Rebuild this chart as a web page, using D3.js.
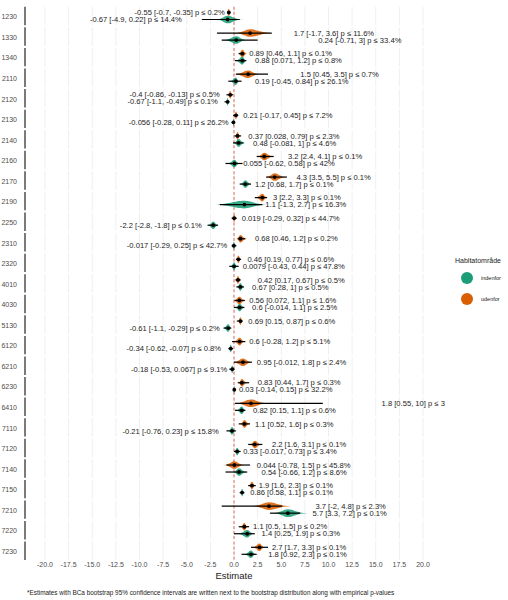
<!DOCTYPE html>
<html>
<head>
<meta charset="utf-8">
<script src="https://cdn.jsdelivr.net/npm/d3@7"></script>
<style>
body { margin: 0; background: #fff; }
text { font-family: "Liberation Sans", Arial, sans-serif; }
</style>
</head>
<body>
<svg id="chart" width="508" height="600"></svg>
<script>
var codes = ['1230', '1330', '1340', '2110', '2120', '2130', '2140', '2160', '2170', '2190', '2250',
    '2310', '2320', '4010', '4030', '5130', '6120', '6210', '6230', '6410', '7110', '7120', '7140',
    '7150', '7210', '7220', '7230']

var xTicks = [-20, -17.5, -15, -12.5, -10, -7.5, -5, -2.5, 0, 2.5, 5, 7.5, 10, 12.5, 15, 17.5, 20]

// estimate, BCa lower, BCa upper, empirical p (%)
var udenforStats = [
    [-0.55, -0.7, -0.35, 0.2], [1.7, -1.7, 3.6, 11.6], [0.89, 0.46, 1.1, 0.1], [1.5, 0.45, 3.5, 0.7],
    [-0.4, -0.86, -0.13, 0.5], [0.21, -0.17, 0.45, 7.2], [0.37, 0.028, 0.79, 2.3], [3.2, 2.4, 4.1, 0.1],
    [4.3, 3.5, 5.5, 0.1], [3, 2.2, 3.3, 0.1], [0.019, -0.29, 0.32, 44.7], [0.68, 0.46, 1.2, 0.2],
    [0.46, 0.19, 0.77, 0.6], [0.42, 0.17, 0.67, 0.5], [0.56, 0.072, 1.1, 1.6], [0.69, 0.15, 0.87, 0.6],
    [0.6, -0.28, 1.2, 5.1], [0.95, -0.012, 1.8, 2.4], [0.83, 0.44, 1.7, 0.3], [1.8, 0.55, 10, 3.1],
    [1.1, 0.52, 1.6, 0.3], [2.2, 1.6, 3.1, 0.1], [0.044, -0.78, 1.5, 45.8], [1.9, 1.6, 2.3, 0.1],
    [3.7, -2, 4.8, 2.3], [1.1, 0.5, 1.5, 0.2], [2.7, 1.7, 3.3, 0.1]
]
var indenforStats = [
    [-0.67, -4.9, 0.22, 14.4], [0.24, -0.71, 3, 33.4], [0.88, 0.071, 1.2, 0.8], [0.19, -0.45, 0.84, 26.1],
    [-0.67, -1.1, -0.49, 0.1], [-0.056, -0.28, 0.11, 26.2], [0.48, -0.081, 1, 4.6], [0.055, -0.62, 0.58, 42],
    [1.2, 0.68, 1.7, 0.1], [1.1, -1.3, 2.7, 16.3], [-2.2, -2.8, -1.8, 0.1], [-0.017, -0.29, 0.25, 42.7],
    [0.0079, -0.43, 0.44, 47.8], [0.67, 0.28, 1, 0.5], [0.6, -0.014, 1.1, 2.5], [-0.61, -1.1, -0.29, 0.2],
    [-0.34, -0.62, -0.07, 0.8], [-0.18, -0.53, 0.067, 9.1], [0.03, -0.14, 0.15, 32.2], [0.82, 0.15, 1.1, 0.6],
    [-0.21, -0.76, 0.23, 15.8], [0.33, -0.017, 0.73, 3.4], [0.54, -0.66, 1.2, 8.6], [0.86, 0.58, 1.1, 0.1],
    [5.7, 3.3, 7.2, 0.1], [1.4, 0.25, 1.9, 0.3], [1.8, 0.92, 2.3, 0.1]
]

// bootstrap distribution: interval lo, hi, density lo, hi, extreme value on the label side
var udenforBoot = [
    [-0.7, -0.4, -0.8, -0.3, -0.65], [-1.8, 4.0, -0.1, 4.4, 6.0], [0.5, 1.1, 0.4, 1.4, 1.3],
    [0.2, 3.6, -0.1, 2.8, 6.7], [-0.8, -0.1, -0.7, -0.1, -1.2], [-0.1, 0.45, -0.05, 0.45, 0.65],
    [0.05, 0.75, 0.1, 0.7, 1.2], [2.4, 4.2, 2.4, 4.3, 5.4], [3.4, 5.6, 3.3, 5.6, 6.3],
    [2.2, 3.5, 2.2, 3.6, 3.8], [-0.25, 0.3, -0.2, 0.25, 0.5], [0.4, 1.2, 0.2, 1.4, 1.9],
    [0.2, 0.75, 0.2, 0.8, 1.1], [0.15, 0.7, 0.15, 0.75, 2.2], [0.05, 1.15, -0.1, 1.3, 1.3],
    [0.3, 0.9, 0.35, 0.95, 1.2], [-0.2, 1.2, -0.1, 1.2, 1.3], [0.0, 1.9, -0.2, 2.0, 2.1],
    [0.4, 1.6, 0.4, 1.5, 2.2], [0.1, 9.4, -0.1, 3.8, 15.3], [0.5, 1.7, 0.6, 1.7, 1.9],
    [1.5, 3.0, 1.6, 3.0, 3.7], [-0.8, 1.7, -1.2, 1.2, 2.1], [1.5, 2.3, 1.5, 2.3, 2.3],
    [-1.3, 5.1, 1.7, 6.1, 8.3], [0.5, 1.6, 0.6, 1.5, 1.7], [1.8, 3.6, 1.9, 3.3, 3.7]
]
var indenforBoot = [
    [-3.4, 0.6, -2.0, 1.0, -5.2], [-1.3, 2.5, -1.2, 1.4, 8.6], [0.1, 1.3, 0.1, 1.4, 1.9],
    [-0.6, 0.8, -0.5, 0.6, 1.9], [-1.0, -0.5, -0.9, -0.5, -1.4], [-0.25, 0.1, -0.2, 0.1, -0.25],
    [-0.1, 1.0, -0.1, 1.2, 1.7], [-0.9, 0.9, -0.75, 0.65, 0.65], [0.6, 1.8, 0.6, 1.9, 1.9],
    [-1.5, 3.0, -2.6, 3.8, 3.0], [-2.8, -1.7, -2.8, -1.6, -3.1], [-0.25, 0.25, -0.2, 0.2, -0.4],
    [-0.5, 0.5, -0.4, 0.4, 0.6], [0.25, 1.05, 0.3, 1.1, 1.6], [0.0, 1.1, 0.05, 1.2, 1.6],
    [-1.1, -0.3, -1.2, -0.2, -1.2], [-0.6, -0.1, -0.6, -0.1, -1.05], [-0.5, 0.05, -0.45, 0.05, -0.4],
    [-0.1, 0.15, -0.1, 0.15, 0.2], [0.1, 1.2, 0.2, 1.3, 1.7], [-0.8, 0.2, -0.6, 0.2, -1.3],
    [0.0, 0.7, 0.0, 0.75, 0.65], [-0.9, 1.4, -0.2, 1.4, 2.6], [0.6, 1.1, 0.6, 1.1, 1.4],
    [3.8, 7.0, 4.0, 7.8, 8.0], [0.0, 2.2, 0.3, 2.2, 2.6], [0.8, 2.4, 1.0, 2.4, 3.3]
]

var groups = ['udenfor', 'indenfor']
var groupColors = { indenfor: '#1b9e77', udenfor: '#d95f02' }

var svg = d3.select('#chart')

var x = d3.scaleLinear().domain([-20, 20]).range([45, 423])
var panelLeft = 25, panelRight = 445
var yPanel = d3.scaleBand().domain(codes).range([6.8, 560]).paddingInner(0.105)
var yGroup = d3.scalePoint().domain(groups).range([-3.5, 3.5])

var rows = []
codes.forEach(function (c, i) {
    [['udenfor', udenforStats[i], udenforBoot[i]], ['indenfor', indenforStats[i], indenforBoot[i]]].forEach(function (g) {
        rows.push({
            code: c, group: g[0],
            est: g[1][0], lo: g[1][1], hi: g[1][2], p: g[1][3],
            qLo: g[2][0], qHi: g[2][1], dLo: g[2][2], dHi: g[2][3], tail: g[2][4]
        })
    })
})

svg.append('defs').append('clipPath').attr('id', 'panelClip')
    .append('rect')
    .attr('x', panelLeft).attr('y', 0)
    .attr('width', panelRight - panelLeft).attr('height', 600)

// panels: grid, zero line, axis segment, label
var panels = svg.append('g').selectAll('g')
    .data(codes)
    .enter()
    .append('g')
    .attr('transform', function (d) { return 'translate(0,' + yPanel(d) + ')' })

panels.selectAll('.grid')
    .data(xTicks)
    .enter()
    .append('line')
    .attr('class', 'grid')
    .attr('x1', function (d) { return x(d) })
    .attr('x2', function (d) { return x(d) })
    .attr('y1', 0)
    .attr('y2', yPanel.bandwidth())
    .style('stroke', '#e8e8e8')
    .style('stroke-width', 0.7)

panels.append('line')
    .attr('x1', x(0)).attr('x2', x(0))
    .attr('y1', 0).attr('y2', yPanel.bandwidth())
    .style('stroke', '#e05a4f')
    .style('stroke-width', 0.9)
    .style('stroke-dasharray', '3,2')

panels.append('line')
    .attr('x1', panelLeft).attr('x2', panelLeft)
    .attr('y1', 0).attr('y2', yPanel.bandwidth())
    .style('stroke', '#333')
    .style('stroke-width', 1.3)

panels.append('text')
    .attr('x', 17)
    .attr('y', yPanel.bandwidth() / 2 + 0.8)
    .attr('dy', '0.35em')
    .attr('text-anchor', 'end')
    .style('font-size', '7px')
    .style('fill', '#4d4d4d')
    .text(function (d) { return d })

function rowY(d) {
    return yPanel(d.code) + yPanel.bandwidth() / 2 + yGroup(d.group)
}

function eyePath(d) {
    var a = x(d.dLo), m = x(d.est), b = x(d.dHi), y = rowY(d), h = 3.8
    return 'M' + a + ',' + y +
        'C' + (a + (m - a) * 0.6) + ',' + y + ' ' + (m - (m - a) * 0.3) + ',' + (y - h) + ' ' + m + ',' + (y - h) +
        'C' + (m + (b - m) * 0.3) + ',' + (y - h) + ' ' + (b - (b - m) * 0.6) + ',' + y + ' ' + b + ',' + y +
        'C' + (b - (b - m) * 0.6) + ',' + y + ' ' + (m + (b - m) * 0.3) + ',' + (y + h) + ' ' + m + ',' + (y + h) +
        'C' + (m - (m - a) * 0.3) + ',' + (y + h) + ' ' + (a + (m - a) * 0.6) + ',' + y + ' ' + a + ',' + y + 'Z'
}

var marks = svg.append('g').attr('clip-path', 'url(#panelClip)')

marks.selectAll('.eye')
    .data(rows)
    .enter()
    .append('path')
    .attr('class', 'eye')
    .attr('d', eyePath)
    .style('fill', function (d) { return groupColors[d.group] })
    .style('fill-opacity', 0.88)

marks.selectAll('.interval')
    .data(rows)
    .enter()
    .append('line')
    .attr('class', 'interval')
    .attr('x1', function (d) { return x(d.qLo) })
    .attr('x2', function (d) { return x(d.qHi) })
    .attr('y1', rowY)
    .attr('y2', rowY)
    .style('stroke', '#000')
    .style('stroke-width', 1.2)

marks.selectAll('.point')
    .data(rows)
    .enter()
    .append('circle')
    .attr('class', 'point')
    .attr('cx', function (d) { return x(d.est) })
    .attr('cy', rowY)
    .attr('r', 1.9)
    .style('fill', '#000')

marks.selectAll('.label')
    .data(rows)
    .enter()
    .append('text')
    .attr('class', 'label')
    .attr('x', function (d) { return d.est < 0 ? x(d.tail) - 3 : x(d.tail) + 3 })
    .attr('y', rowY)
    .attr('dy', '0.35em')
    .attr('text-anchor', function (d) { return d.est < 0 ? 'end' : 'start' })
    .style('font-size', '7.6px')
    .style('fill', '#222')
    .text(function (d) {
        return d.est + ' [' + d.lo + ', ' + d.hi + '] p \u2264 ' + d.p + '%'
    })

// x axis labels
svg.append('g').selectAll('text')
    .data(xTicks)
    .enter()
    .append('text')
    .attr('x', function (d) { return x(d) })
    .attr('y', 564.5)
    .attr('dy', '0.35em')
    .attr('text-anchor', 'middle')
    .style('font-size', '7px')
    .style('fill', '#4d4d4d')
    .text(function (d) { return d.toFixed(1) })

svg.append('text')
    .attr('x', x(0))
    .attr('y', 575.5)
    .attr('dy', '0.35em')
    .attr('text-anchor', 'middle')
    .style('font-size', '9.5px')
    .style('fill', '#222')
    .text('Estimate')

svg.append('text')
    .attr('x', 27)
    .attr('y', 593)
    .attr('dy', '0.35em')
    .style('font-size', '6.4px')
    .style('fill', '#222')
    .text('*Estimates with BCa bootstrap 95% confidence intervals are written next to the bootstrap distribution along with empirical p-values')

// legend
var legend = svg.append('g').attr('transform', 'translate(455,261)')
legend.append('text')
    .attr('x', 0).attr('y', 0)
    .attr('dy', '0.35em')
    .style('font-size', '7px')
    .style('fill', '#222')
    .text('Habitatområde')

var legendItems = legend.selectAll('.item')
    .data(['indenfor', 'udenfor'])
    .enter()
    .append('g')
    .attr('class', 'item')
    .attr('transform', function (d, i) { return 'translate(12,' + (17 + i * 21) + ')' })

legendItems.append('circle')
    .attr('r', 6)
    .style('fill', function (d) { return groupColors[d] })

legendItems.append('text')
    .attr('x', 14)
    .attr('dy', '0.35em')
    .style('font-size', '5.5px')
    .style('fill', '#222')
    .text(function (d) { return d })
</script>
</body>
</html>
